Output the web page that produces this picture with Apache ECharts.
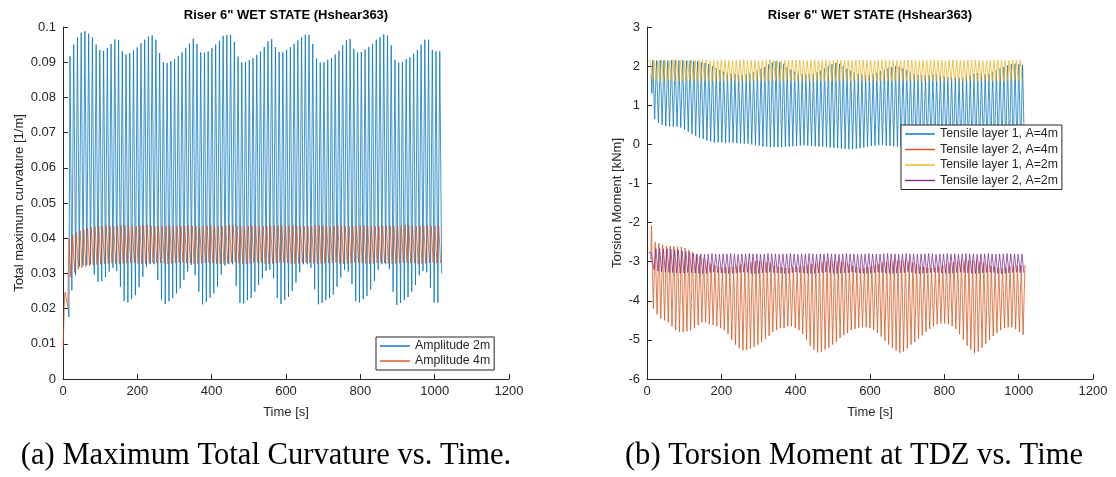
<!DOCTYPE html>
<html>
<head>
<meta charset="utf-8">
<script src="https://cdn.jsdelivr.net/npm/echarts@6/dist/echarts.min.js"></script>
<style>
  html, body { margin: 0; padding: 0; background: #ffffff; }
  #chart { width: 1116px; height: 477px; }
</style>
</head>
<body>
<div id="chart"></div>
<script>
// Riser 6" wet state, shear case Hshear363: wave response over time.
// Each signal is stored as its successive crests and troughs (one pair per wave cycle).
const CYCLE = 10.05;          // wave period [s]
const HALF = CYCLE / 2;

// ---------- (a) Total maximum curvature [1/m] ----------
const curvA2Lead = [[14, 0.0205], [16, 0.0176]];
const curvA2Start = 18.8;
const curvA2Peaks = [
  0.0917,0.0950,0.0970,0.0984,0.0988,0.0981,0.0970,0.0950,0.0935,0.0932,
  0.0940,0.0952,0.0965,0.0963,0.0932,0.0922,0.0926,0.0933,0.0942,0.0954,
  0.0964,0.0973,0.0976,0.0964,0.0926,0.0900,0.0898,0.0903,0.0909,0.0917,
  0.0928,0.0940,0.0953,0.0967,0.0952,0.0928,0.0927,0.0931,0.0940,0.0950,
  0.0960,0.0975,0.0977,0.0978,0.0958,0.0916,0.0899,0.0900,0.0906,0.0912,
  0.0921,0.0931,0.0943,0.0959,0.0966,0.0943,0.0929,0.0928,0.0935,0.0943,
  0.0952,0.0962,0.0971,0.0978,0.0978,0.0952,0.0910,0.0899,0.0900,0.0907,
  0.0912,0.0922,0.0933,0.0948,0.0962,0.0966,0.0938,0.0928,0.0929,0.0936,
  0.0943,0.0952,0.0964,0.0971,0.0979,0.0976,0.0948,0.0907,0.0899,0.0901,
  0.0909,0.0914,0.0924,0.0935,0.0950,0.0964,0.0964,0.0935,0.0931,0.0931
];
const curvA2Troughs = [
  0.0252,0.0295,0.0319,0.0322,0.0324,0.0326,0.0297,0.0276,0.0278,0.0289,
  0.0305,0.0316,0.0307,0.0262,0.0221,0.0217,0.0227,0.0238,0.0261,0.0290,
  0.0319,0.0326,0.0326,0.0281,0.0224,0.0213,0.0221,0.0230,0.0243,0.0257,
  0.0281,0.0305,0.0324,0.0295,0.0248,0.0212,0.0219,0.0231,0.0243,0.0262,
  0.0297,0.0322,0.0326,0.0326,0.0264,0.0216,0.0214,0.0224,0.0230,0.0248,
  0.0267,0.0286,0.0307,0.0310,0.0286,0.0230,0.0213,0.0224,0.0233,0.0250,
  0.0274,0.0303,0.0326,0.0326,0.0316,0.0255,0.0212,0.0216,0.0224,0.0230,
  0.0240,0.0262,0.0288,0.0310,0.0305,0.0270,0.0221,0.0217,0.0227,0.0236,
  0.0254,0.0278,0.0310,0.0326,0.0326,0.0312,0.0248,0.0210,0.0216,0.0224,
  0.0233,0.0248,0.0267,0.0295,0.0307,0.0303,0.0259,0.0217,0.0217,0.0300
];

const curvA4Lead = [[0.5, 0.0087], [4, 0.0238], [6, 0.0246], [11, 0.0243], [13, 0.0205]];
const curvA4Start = 16;
const curvA4Peaks = [
  0.0400,0.0410,0.0416,0.0421,0.0425,0.0428,0.0431,0.0433,0.0434,0.0435,
  0.0436,0.0435,0.0434,0.0435,0.0436,0.0436,0.0435,0.0434,0.0435,0.0436,
  0.0437,0.0436,0.0435,0.0434,0.0435,0.0436,0.0436,0.0435,0.0434,0.0434,
  0.0435,0.0436,0.0437,0.0436,0.0435,0.0434,0.0435,0.0436,0.0436,0.0435,
  0.0434,0.0435,0.0436,0.0437,0.0436,0.0435,0.0434,0.0434,0.0435,0.0436,
  0.0436,0.0435,0.0434,0.0435,0.0436,0.0437,0.0436,0.0435,0.0434,0.0435,
  0.0436,0.0436,0.0435,0.0434,0.0434,0.0435,0.0436,0.0437,0.0436,0.0435,
  0.0434,0.0435,0.0436,0.0436,0.0435,0.0434,0.0435,0.0436,0.0437,0.0436,
  0.0435,0.0434,0.0434,0.0435,0.0436,0.0436,0.0435,0.0434,0.0435,0.0436,
  0.0437,0.0436,0.0435,0.0434,0.0435,0.0436,0.0436,0.0435,0.0434,0.0435
];
const curvA4Troughs = [
  0.0290,0.0303,0.0311,0.0316,0.0319,0.0321,0.0323,0.0325,0.0326,0.0327,
  0.0328,0.0329,0.0328,0.0327,0.0328,0.0330,0.0331,0.0330,0.0328,0.0327,
  0.0328,0.0329,0.0330,0.0331,0.0330,0.0328,0.0327,0.0328,0.0329,0.0330,
  0.0331,0.0330,0.0329,0.0327,0.0328,0.0329,0.0330,0.0331,0.0330,0.0328,
  0.0327,0.0328,0.0329,0.0331,0.0331,0.0329,0.0328,0.0327,0.0328,0.0330,
  0.0331,0.0330,0.0328,0.0327,0.0328,0.0329,0.0330,0.0331,0.0330,0.0328,
  0.0327,0.0328,0.0330,0.0331,0.0330,0.0329,0.0327,0.0328,0.0329,0.0330,
  0.0331,0.0330,0.0328,0.0327,0.0328,0.0329,0.0331,0.0331,0.0329,0.0328,
  0.0327,0.0328,0.0330,0.0331,0.0330,0.0328,0.0327,0.0328,0.0329,0.0330,
  0.0331,0.0330,0.0329,0.0327,0.0328,0.0329,0.0330,0.0331,0.0330,0.0329
];

// ---------- (b) Torsion moment at TDZ [kNm] ----------
const tl1A4Lead = [[11, 1.78], [13, 1.30]];
const tl1A4Start = 15.5;
const tl1A4Peaks = [
  2.15,2.14,2.15,2.15,2.14,2.15,2.15,2.14,2.15,2.14,
  2.14,2.13,2.12,2.10,2.08,2.05,2.00,1.95,1.90,1.86,
  1.83,1.81,1.79,1.78,1.78,1.79,1.81,1.84,1.88,1.93,
  1.98,2.04,2.09,2.12,2.10,2.04,1.97,1.91,1.86,1.82,
  1.80,1.78,1.78,1.80,1.84,1.89,1.94,2.00,2.05,2.08,
  2.05,1.99,1.93,1.88,1.84,1.80,1.78,1.77,1.78,1.80,
  1.83,1.87,1.91,1.95,1.98,2.00,1.98,1.94,1.89,1.84,
  1.80,1.77,1.76,1.76,1.77,1.79,1.78,1.76,1.74,1.72,
  1.71,1.70,1.70,1.71,1.73,1.76,1.79,1.82,1.80,1.79,
  1.80,1.84,1.89,1.94,1.98,2.02,2.05,2.06,2.05,2.03
];
const tl1A4Troughs = [
  0.65,0.55,0.50,0.47,0.46,0.45,0.45,0.43,0.38,0.32,
  0.26,0.22,0.18,0.14,0.10,0.07,0.05,0.05,0.05,0.04,
  0.05,0.04,0.03,0.03,0.02,0.02,0.00,-0.02,-0.03,-0.05,
  -0.06,-0.07,-0.07,-0.07,-0.07,-0.06,-0.06,-0.05,-0.04,-0.03,
  -0.02,-0.03,-0.04,-0.05,-0.05,-0.06,-0.07,-0.08,-0.09,-0.10,
  -0.11,-0.12,-0.12,-0.12,-0.11,-0.10,-0.08,-0.06,-0.04,-0.03,
  -0.02,-0.02,-0.03,-0.04,-0.05,-0.06,-0.07,-0.08,-0.09,-0.10,
  -0.10,-0.09,-0.07,-0.05,-0.03,-0.02,-0.02,-0.03,-0.05,-0.07,
  -0.09,-0.11,-0.12,-0.12,-0.11,-0.09,-0.07,-0.05,-0.03,-0.02,
  -0.02,-0.03,-0.04,-0.06,-0.08,-0.10,-0.11,-0.12,-0.12,-0.10
];

const tl2A4Lead = [[10, -2.95], [12, -2.08]];
const tl2A4Start = 17;
const tl2A4Troughs = [
  -4.20,-4.35,-4.45,-4.50,-4.55,-4.65,-4.75,-4.80,-4.80,-4.78,
  -4.75,-4.70,-4.62,-4.55,-4.55,-4.60,-4.62,-4.65,-4.70,-4.75,
  -4.85,-5.00,-5.12,-5.21,-5.26,-5.25,-5.22,-5.18,-5.12,-5.05,
  -4.98,-4.90,-4.80,-4.75,-4.70,-4.70,-4.65,-4.65,-4.70,-4.75,
  -4.85,-5.00,-5.15,-5.25,-5.32,-5.30,-5.25,-5.20,-5.12,-5.05,
  -4.95,-4.88,-4.82,-4.75,-4.72,-4.70,-4.68,-4.68,-4.70,-4.75,
  -4.82,-4.92,-5.02,-5.12,-5.20,-5.27,-5.33,-5.30,-5.22,-5.12,
  -5.05,-4.97,-4.88,-4.80,-4.72,-4.65,-4.60,-4.58,-4.58,-4.60,
  -4.65,-4.72,-4.85,-5.00,-5.15,-5.25,-5.34,-5.30,-5.20,-5.10,
  -5.00,-4.90,-4.82,-4.75,-4.70,-4.68,-4.68,-4.72,-4.80,-4.87
];
const tl2A4Peaks = [
  -2.50,-2.53,-2.57,-2.60,-2.60,-2.61,-2.62,-2.62,-2.65,-2.70,
  -2.76,-2.82,-2.85,-2.92,-2.98,-3.05,-3.10,-3.13,-3.15,-3.15,
  -3.14,-3.12,-3.10,-3.07,-3.04,-3.02,-3.00,-2.98,-2.98,-2.99,
  -3.01,-3.04,-3.08,-3.12,-3.15,-3.16,-3.16,-3.15,-3.14,-3.12,
  -3.10,-3.08,-3.06,-3.04,-3.02,-3.00,-2.99,-2.98,-2.98,-2.98,
  -3.00,-3.03,-3.07,-3.11,-3.14,-3.16,-3.16,-3.14,-3.11,-3.08,
  -3.05,-3.02,-3.00,-2.98,-2.97,-2.97,-2.97,-2.98,-3.00,-3.03,
  -3.07,-3.11,-3.14,-3.16,-3.16,-3.15,-3.13,-3.10,-3.07,-3.04,
  -3.01,-2.99,-2.98,-2.97,-2.97,-2.97,-2.98,-3.00,-3.03,-3.07,
  -3.11,-3.14,-3.16,-3.16,-3.15,-3.13,-3.11,-3.10,-3.09,-3.08
];

const tl1A2Lead = [[3.5, 2.13], [6, 2.16]];
const tl1A2Start = 9;
const tl1A2Peaks = [
  2.15,2.16,2.15,2.15,2.14,2.15,2.16,2.15,2.15,2.15,
  2.14,2.15,2.15,2.16,2.15,2.15,2.14,2.15,2.15,2.16,
  2.15,2.15,2.15,2.14,2.15,2.16,2.15,2.15,2.15,2.14,
  2.15,2.15,2.16,2.15,2.15,2.14,2.15,2.15,2.16,2.15,
  2.15,2.15,2.14,2.15,2.16,2.15,2.15,2.15,2.14,2.15,
  2.16,2.15,2.15,2.15,2.14,2.15,2.15,2.16,2.15,2.15,
  2.14,2.15,2.15,2.16,2.15,2.15,2.15,2.14,2.15,2.16,
  2.15,2.15,2.14,2.15,2.15,2.16,2.15,2.15,2.15,2.14,
  2.15,2.16,2.15,2.15,2.14,2.15,2.15,2.16,2.15,2.15,
  2.15,2.14,2.15,2.16,2.15,2.15,2.14,2.15,2.15,2.16
];
const tl1A2Troughs = [
  1.64,1.62,1.62,1.61,1.62,1.63,1.62,1.61,1.62,1.62,
  1.63,1.62,1.61,1.62,1.62,1.60,1.62,1.63,1.62,1.61,
  1.62,1.62,1.63,1.61,1.62,1.62,1.60,1.62,1.63,1.62,
  1.61,1.62,1.62,1.63,1.62,1.61,1.62,1.60,1.62,1.62,
  1.63,1.62,1.61,1.62,1.62,1.63,1.61,1.62,1.62,1.60,
  1.62,1.63,1.62,1.61,1.62,1.62,1.63,1.62,1.61,1.62,
  1.60,1.62,1.62,1.63,1.61,1.62,1.62,1.63,1.62,1.61,
  1.62,1.62,1.60,1.62,1.63,1.62,1.61,1.62,1.62,1.63,
  1.62,1.61,1.62,1.60,1.62,1.63,1.62,1.61,1.62,1.62,
  1.63,1.62,1.61,1.62,1.62,1.60,1.62,1.63,1.62,1.62
];

const tl2A2Lead = [[4, -2.78], [6, -2.74], [8.5, -2.81], [10.5, -2.76]];
const tl2A2Start = 14;
const tl2A2Peaks = [
  -2.72,-2.66,-2.66,-2.67,-2.67,-2.68,-2.69,-2.70,-2.72,-2.74,
  -2.76,-2.78,-2.80,-2.80,-2.81,-2.80,-2.79,-2.80,-2.81,-2.80,
  -2.80,-2.79,-2.80,-2.81,-2.80,-2.80,-2.79,-2.80,-2.80,-2.81,
  -2.80,-2.79,-2.80,-2.80,-2.81,-2.80,-2.80,-2.79,-2.80,-2.81,
  -2.80,-2.80,-2.79,-2.80,-2.81,-2.80,-2.80,-2.79,-2.80,-2.80,
  -2.81,-2.80,-2.79,-2.80,-2.80,-2.81,-2.80,-2.80,-2.79,-2.80,
  -2.81,-2.80,-2.80,-2.79,-2.80,-2.80,-2.81,-2.80,-2.79,-2.80,
  -2.80,-2.81,-2.80,-2.80,-2.79,-2.80,-2.81,-2.80,-2.80,-2.79,
  -2.80,-2.80,-2.81,-2.80,-2.79,-2.80,-2.80,-2.81,-2.80,-2.80,
  -2.79,-2.80,-2.81,-2.80,-2.80,-2.79,-2.80,-2.80,-2.81,-2.80
];
const tl2A2Troughs = [
  -3.20,-3.24,-3.26,-3.27,-3.28,-3.28,-3.29,-3.30,-3.29,-3.28,
  -3.28,-3.29,-3.30,-3.31,-3.30,-3.28,-3.27,-3.28,-3.29,-3.30,
  -3.31,-3.30,-3.29,-3.28,-3.27,-3.28,-3.30,-3.31,-3.30,-3.29,
  -3.28,-3.27,-3.28,-3.29,-3.30,-3.31,-3.30,-3.28,-3.27,-3.28,
  -3.29,-3.30,-3.31,-3.30,-3.29,-3.28,-3.27,-3.28,-3.30,-3.31,
  -3.30,-3.29,-3.28,-3.27,-3.28,-3.29,-3.30,-3.31,-3.30,-3.28,
  -3.27,-3.28,-3.29,-3.30,-3.31,-3.30,-3.29,-3.28,-3.27,-3.28,
  -3.30,-3.31,-3.30,-3.29,-3.28,-3.27,-3.28,-3.29,-3.30,-3.31,
  -3.30,-3.28,-3.27,-3.28,-3.29,-3.30,-3.31,-3.30,-3.29,-3.28,
  -3.27,-3.28,-3.30,-3.31,-3.30,-3.29,-3.28,-3.27,-3.28,-3.29
];

// Interleave the extremes of each cycle into a time series.
function zigzag(lead, t0, first, second) {
  const pts = lead.map(p => p.slice());
  for (let i = 0; i < first.length; i++) {
    pts.push([t0 + i * CYCLE, first[i]]);
    if (i < second.length) pts.push([t0 + HALF + i * CYCLE, second[i]]);
  }
  return pts;
}

const MBLUE = '#0072BD', MORANGE = '#D95319', MYELLOW = '#EDB120', MPURPLE = '#7E2F8E';
const INK = '#262626';
const SANS = '"Liberation Sans", Arial, Helvetica, sans-serif';
const SERIF = '"Liberation Serif", "Times New Roman", serif';
// thin horizontal stroke used as the legend key
const KEY_ICON = 'path://M0,0 L32,0 L32,1.5 L0,1.5 Z';

const plainNumber = v => String(Math.round(v * 1e6) / 1e6);

function xAxisFor(gridIndex) {
  return {
    type: 'value', gridIndex, min: 0, max: 1200, interval: 200,
    name: 'Time [s]', nameLocation: 'middle', nameGap: 27,
    nameTextStyle: { color: INK, fontSize: 13, fontFamily: SANS },
    axisLine: { onZero: false, lineStyle: { color: INK, width: 1 } },
    axisTick: { inside: true, length: 5, lineStyle: { color: INK } },
    axisLabel: { color: INK, fontSize: 13, fontFamily: SANS, margin: 6, formatter: plainNumber },
    splitLine: { show: false }
  };
}
function yAxisFor(gridIndex, min, max, interval, name, nameGap) {
  return {
    type: 'value', gridIndex, min, max, interval,
    name, nameLocation: 'middle', nameGap,
    nameTextStyle: { color: INK, fontSize: 13, fontFamily: SANS },
    axisLine: { show: true, onZero: false, lineStyle: { color: INK, width: 1 } },
    axisTick: { show: true, inside: true, length: 5, lineStyle: { color: INK } },
    axisLabel: { color: INK, fontSize: 13, fontFamily: SANS, margin: 7, formatter: plainNumber },
    splitLine: { show: false }
  };
}
function trace(name, color, data, axisIndex) {
  return {
    type: 'line', name, data,
    xAxisIndex: axisIndex, yAxisIndex: axisIndex,
    showSymbol: false, symbol: 'none',
    lineStyle: { color, width: 0.75 },
    itemStyle: { color },
    emphasis: { disabled: true },
    animation: false
  };
}
const legendBase = {
  orient: 'vertical', backgroundColor: '#ffffff',
  borderColor: INK, borderWidth: 1, borderRadius: 0,
  icon: KEY_ICON, symbolKeepAspect: true,
  itemWidth: 30, itemHeight: 14, itemGap: 3,
  selectedMode: false,
  textStyle: { color: INK, fontSize: 12.3, fontFamily: SANS }
};

const chart = echarts.init(document.getElementById('chart'), null, { renderer: 'canvas' });
chart.setOption({
  backgroundColor: '#ffffff',
  animation: false,
  grid: [
    { left: 63, top: 27, width: 446, height: 352 },
    { left: 647, top: 27, width: 446, height: 352 }
  ],
  xAxis: [xAxisFor(0), xAxisFor(1)],
  yAxis: [
    yAxisFor(0, 0, 0.1, 0.01, 'Total maximum curvature [1/m]', 37),
    yAxisFor(1, -6, 3, 1, 'Torsion Moment [kNm]', 23)
  ],
  legend: [
    Object.assign({}, legendBase, {
      data: ['Amplitude 2m', 'Amplitude 4m'],
      left: 376, top: 337, padding: [3, 4, 3, 4]
    }),
    Object.assign({}, legendBase, {
      data: ['Tensile layer 1, A=4m', 'Tensile layer 2, A=4m', 'Tensile layer 1, A=2m', 'Tensile layer 2, A=2m'],
      left: 901, top: 125, itemHeight: 13, itemGap: 3.5, padding: [3, 4, 3, 4]
    })
  ],
  series: [
    trace('Amplitude 2m', MBLUE, zigzag(curvA2Lead, curvA2Start, curvA2Peaks, curvA2Troughs), 0),
    trace('Amplitude 4m', MORANGE, zigzag(curvA4Lead, curvA4Start, curvA4Peaks, curvA4Troughs), 0),
    trace('Tensile layer 1, A=4m', MBLUE, zigzag(tl1A4Lead, tl1A4Start, tl1A4Peaks, tl1A4Troughs), 1),
    trace('Tensile layer 2, A=4m', MORANGE, zigzag(tl2A4Lead, tl2A4Start, tl2A4Troughs, tl2A4Peaks), 1),
    trace('Tensile layer 1, A=2m', MYELLOW, zigzag(tl1A2Lead, tl1A2Start, tl1A2Peaks, tl1A2Troughs), 1),
    trace('Tensile layer 2, A=2m', MPURPLE, zigzag(tl2A2Lead, tl2A2Start, tl2A2Peaks, tl2A2Troughs), 1)
  ],
  graphic: [
    { type: 'text', x: 286, y: 15, silent: true,
      style: { text: 'Riser 6" WET STATE (Hshear363)', font: 'bold 13px ' + SANS, fill: '#000000',
               textAlign: 'center', textVerticalAlign: 'middle' } },
    { type: 'text', x: 870, y: 15, silent: true,
      style: { text: 'Riser 6" WET STATE (Hshear363)', font: 'bold 13px ' + SANS, fill: '#000000',
               textAlign: 'center', textVerticalAlign: 'middle' } },
    { type: 'text', x: 266, y: 456, silent: true,
      style: { text: '(a) Maximum Total Curvature vs. Time.', font: '30.6px ' + SERIF, fill: '#000000',
               textAlign: 'center', textVerticalAlign: 'middle' } },
    { type: 'text', x: 854, y: 456, silent: true,
      style: { text: '(b) Torsion Moment at TDZ vs. Time', font: '30.6px ' + SERIF, fill: '#000000',
               textAlign: 'center', textVerticalAlign: 'middle' } }
  ]
});
</script>
</body>
</html>
